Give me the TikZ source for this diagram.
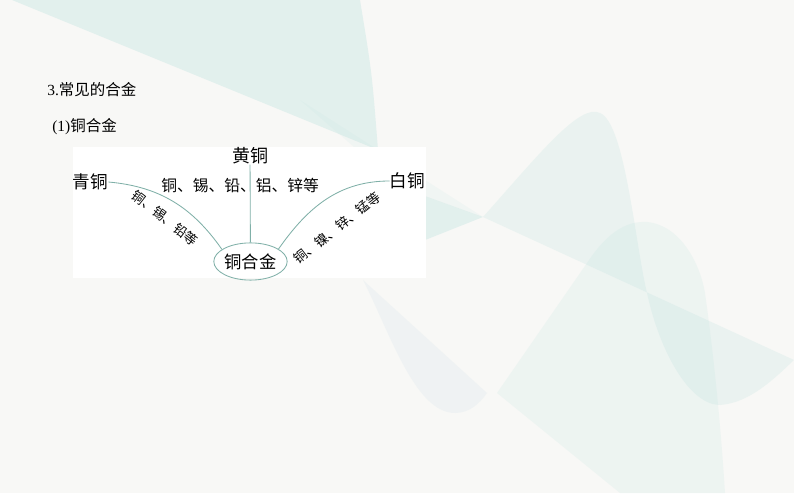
\documentclass[tikz,border=0pt]{standalone}
\usepackage{fontspec}
\setmainfont{Liberation Serif}
\newfontfamily\cjk{Noto Sans CJK SC}
\usetikzlibrary{shapes.geometric}
\definecolor{bgcol}{RGB}{248,248,246}
\definecolor{tealbg}{RGB}{178,222,218}
\definecolor{bluebg}{RGB}{205,222,232}
\definecolor{linecol}{RGB}{128,176,168}
\tikzstyle{heading} = [font=\fontsize{11}{13}\selectfont, anchor=west, inner sep=0pt]
\tikzstyle{metal} = [font=\cjk\fontsize{12.5}{14}\selectfont, inner sep=0pt]
\tikzstyle{mix} = [font=\cjk\fontsize{11.2}{13}\selectfont, inner sep=0pt]
\tikzstyle{mixrot} = [font=\cjk\fontsize{9.4}{11}\selectfont, inner sep=0pt]
\tikzstyle{core} = [ellipse, draw=linecol, line width=0.6pt, minimum width=1.83cm, minimum height=0.93cm, inner sep=0pt, font=\cjk\fontsize{12.3}{14}\selectfont]
\tikzstyle{branch} = [draw=linecol, line width=0.6pt]

\begin{document}
\begin{tikzpicture}[x=0.025cm, y=0.025cm]
% background
\fill[bgcol] (0,0) rectangle (794,493);
\fill[tealbg, opacity=0.3] (12,493) -- (360,493) .. controls (372,420) .. (378,343) -- cycle;
\fill[tealbg, opacity=0.1] (300,393) -- (378,343) -- (483,276) -- (400,306) -- cycle;
\fill[tealbg, opacity=0.3] (400,306) -- (483,276) -- (400,243) -- cycle;
\fill[tealbg, opacity=0.2] (483,276) .. controls (540,340) and (580,390) .. (600,380)
  .. controls (625,370) and (635,250) .. (647,200) .. controls (660,140) and (690,88) .. (720,88)
  .. controls (750,90) and (775,115) .. (794,133) -- cycle;
\fill[tealbg, opacity=0.15] (497,100) -- (587,230) .. controls (610,265) and (630,272) .. (647,271)
  .. controls (680,268) and (700,230) .. (705,200) .. controls (712,150) and (720,80) .. (725,0)
  -- (620,0) -- cycle;
\fill[bluebg, opacity=0.2] (363,213) .. controls (390,160) and (415,80) .. (455,80)
  .. controls (470,80) and (480,90) .. (487,100) -- cycle;
% panel
\fill[white] (73,215) rectangle (426,346);

\node (title) [heading] at (47,403) {3.{\cjk 常见的合金}};
\node (sub) [heading] at (52,366) {(1){\cjk 铜合金}};

\node (huang) [metal, font=\cjk\fontsize{12.8}{14}\selectfont] at (250,337) {黄铜};
\node (qing) [metal] at (90.5,311) {青铜};
\node (bai) [metal] at (407.5,312) {白铜};
\node (core) [core] at (250.5,231.5) {铜合金};

\node (huangMix) [mix] at (240,308) {铜、锡、铅、铝、锌等};
\node (qingMix) [mixrot, rotate=-38] at (165,275) {铜、锡、铅等};
\node (baiMix) [mixrot, rotate=38] at (337,265) {铜、镍、锌、锰等};

\draw [branch] (huang) -- (core);
\draw [branch] (qing.east) to[out=-5, in=125] (core.157);
\draw [branch] (core.24) to[out=55, in=180] (bai.west);
\end{tikzpicture}
\end{document}
